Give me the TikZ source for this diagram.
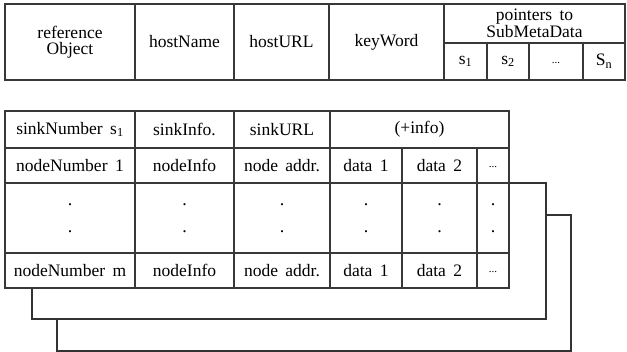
\documentclass[tikz,border=0pt]{standalone}
\usepackage{fontspec}
\setmainfont[WordSpace=1.7]{Liberation Serif}
\begin{document}
\begin{tikzpicture}[x=1pt,y=-1pt,
  cell/.style={draw=black!78, line width=1.2pt, inner sep=0pt, outer sep=0pt,
    font=\fontsize{17.5}{16.5}\selectfont, align=center},
  sub/.style={cell, line width=1.1pt},
  frame/.style={draw=black!80, line width=1.1pt},
  vdots/.style={sub, font=\fontsize{18}{27}\selectfont},
  smalldots/.style={font=\fontsize{11}{11}\selectfont}]
\useasboundingbox (0,0) rectangle (627,352);

% --- metadata record ---
\node[cell, minimum width=130, minimum height=76] (ro) at (70,42) {reference\\Object};
\node[cell, minimum width=99,  minimum height=76] (hn) at (184.5,42) {hostName};
\node[cell, minimum width=95,  minimum height=76] (hu) at (281.5,42) {hostURL};
\node[cell, minimum width=115, minimum height=76] (kw) at (386.5,42) {keyWord};
\node[cell, minimum width=181, minimum height=39] (pt) at (534.5,23.5) {pointers to\\SubMetaData};
\node[cell, minimum width=43, minimum height=37] (s1) at (465.5,61.5) {s\textsubscript{1}};
\node[cell, minimum width=42, minimum height=37] (s2) at (508,61.5) {s\textsubscript{2}};
\node[cell, minimum width=54, minimum height=37] (sd) at (556,61.5) {\raisebox{-4pt}{\fontsize{11}{11}\selectfont ...}};
\node[cell, minimum width=42, minimum height=37] (sn) at (604,61.5) {S\textsubscript{n}};

% --- sub metadata table ---
\node[sub, minimum width=130, minimum height=37] (a1) at (70,129.5) {sinkNumber s\textsubscript{1}};
\node[sub, minimum width=99,  minimum height=37] (b1) at (184.5,129.5) {sinkInfo.};
\node[sub, minimum width=96,  minimum height=37] (c1) at (282,129.5) {sinkURL};
\node[sub, minimum width=179, minimum height=37] (d1) at (419.5,129.5) {(+info)};

\node[sub, minimum width=130, minimum height=35] (a2) at (70,165.5) {nodeNumber 1};
\node[sub, minimum width=99,  minimum height=35] (b2) at (184.5,165.5) {nodeInfo};
\node[sub, minimum width=96,  minimum height=35] (c2) at (282,165.5) {node addr.};
\node[sub, minimum width=72,  minimum height=35] (d2) at (366,165.5) {data 1};
\node[sub, minimum width=75,  minimum height=35] (e2) at (439.5,165.5) {data 2};
\node[sub, minimum width=32,  minimum height=35] (f2) at (493,165.5) {\raisebox{-4pt}{\fontsize{11}{11}\selectfont ...}};

\node[vdots, minimum width=130, minimum height=70] (a3) at (70,218) {.\\.};
\node[vdots, minimum width=99,  minimum height=70] (b3) at (184.5,218) {.\\.};
\node[vdots, minimum width=96,  minimum height=70] (c3) at (282,218) {.\\.};
\node[vdots, minimum width=72,  minimum height=70] (d3) at (366,218) {.\\.};
\node[vdots, minimum width=75,  minimum height=70] (e3) at (439.5,218) {.\\.};
\node[vdots, minimum width=32,  minimum height=70] (f3) at (493,218) {.\\.};

\node[sub, minimum width=130, minimum height=35] (a4) at (70,270.5) {nodeNumber m};
\node[sub, minimum width=99,  minimum height=35] (b4) at (184.5,270.5) {nodeInfo};
\node[sub, minimum width=96,  minimum height=35] (c4) at (282,270.5) {node addr.};
\node[sub, minimum width=72,  minimum height=35] (d4) at (366,270.5) {data 1};
\node[sub, minimum width=75,  minimum height=35] (e4) at (439.5,270.5) {data 2};
\node[sub, minimum width=32,  minimum height=35] (f4) at (493,270.5) {\raisebox{-4pt}{\fontsize{11}{11}\selectfont ...}};

% --- stacked tables behind ---
\coordinate (k1) at (546,319);
\coordinate (k2) at (571,351);
\draw[frame] (f3.north east) -| (k1) -| ([xshift=27pt]a4.south west);
\draw[frame] (k1 |- 0,215) -| (k2) -| ([xshift=52pt]a4.south west |- k1);
\end{tikzpicture}
\end{document}
